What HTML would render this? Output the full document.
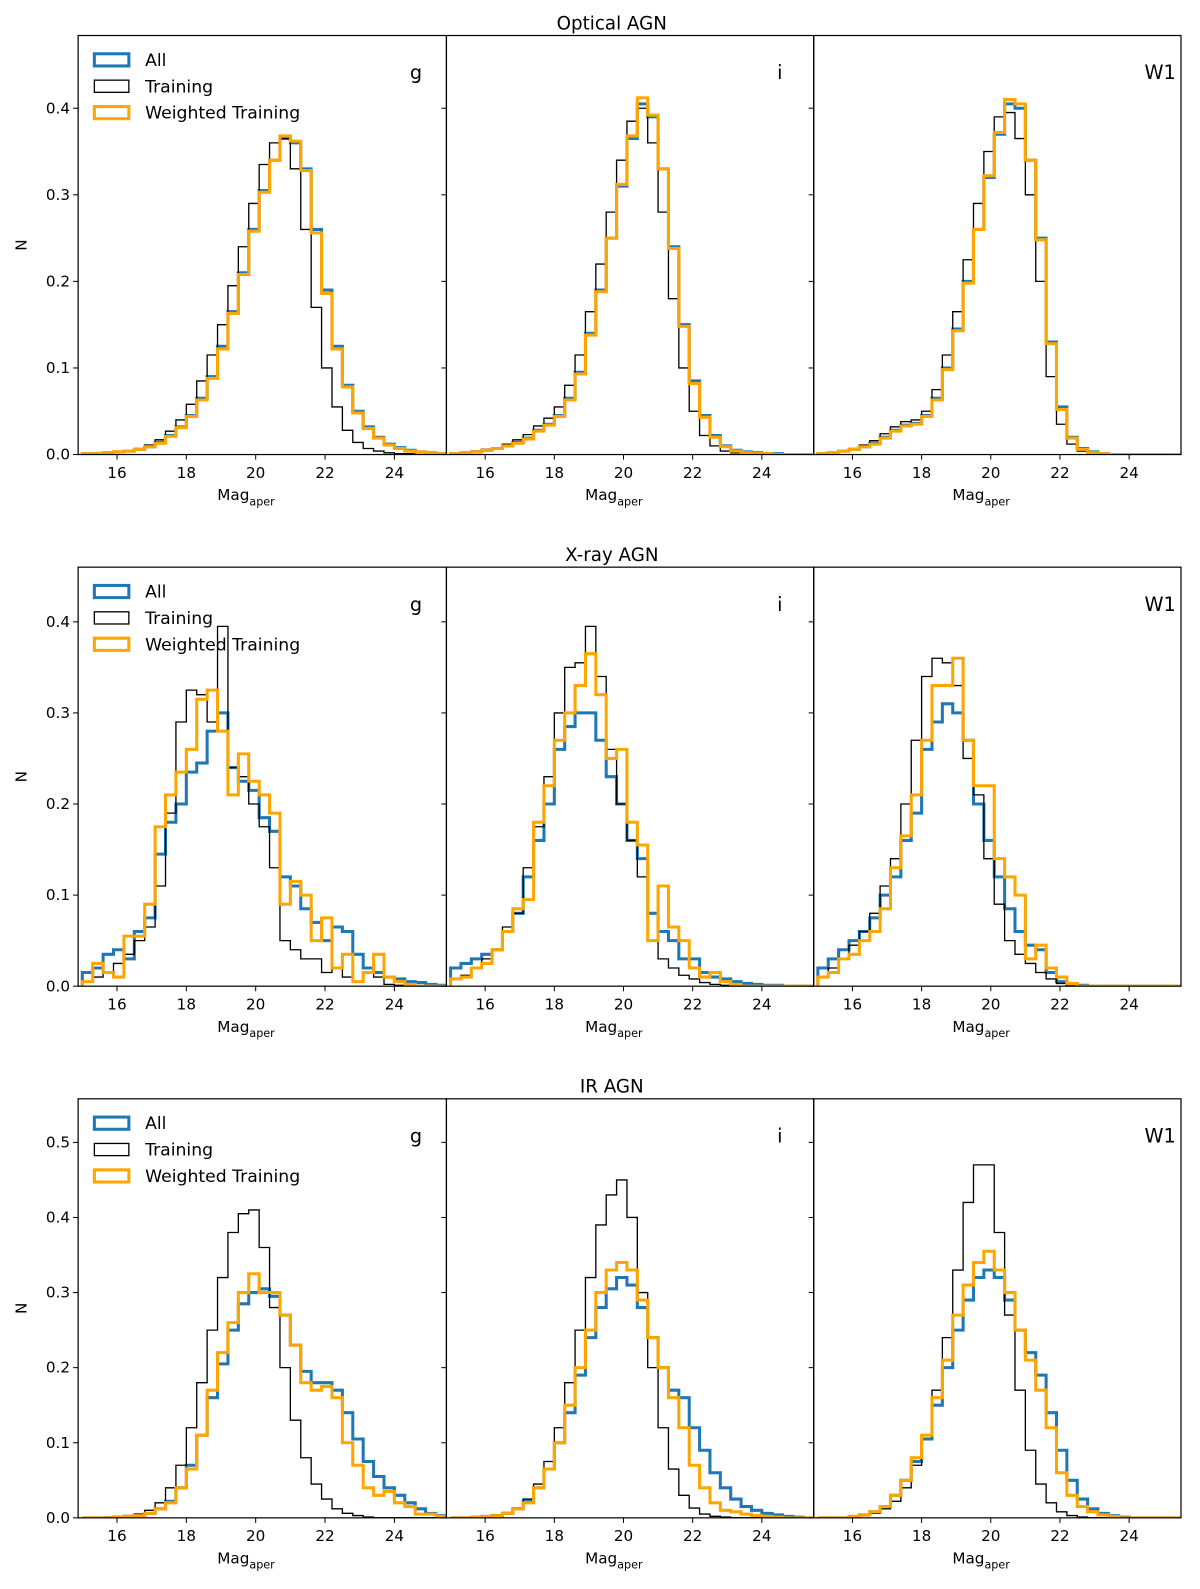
<!DOCTYPE html>
<html><head><meta charset="utf-8">
<style>
html,body{margin:0;padding:0;background:#fff;}
svg{display:block;font-family:"DejaVu Sans","Liberation Sans",sans-serif;}
</style></head>
<body>
<svg width="1200" height="1589" viewBox="0 0 1200 1589" xmlns="http://www.w3.org/2000/svg"><g id="fig" transform="scale(1.0146)"></g></svg>
<script>
const binStart = 15.0, binWidth = 0.3;
const xTicks = [16,18,20,22,24];
const rowTitles = ["Optical AGN","X-ray AGN","IR AGN"];
const bandLabels = ["g","i","W1"];
const yTicksRow = [[0,0.1,0.2,0.3,0.4],[0,0.1,0.2,0.3,0.4],[0,0.1,0.2,0.3,0.4,0.5]];
const yMaxRow = [0.484,0.46,0.558];

// Optical
const optG_all = [0.001,0.001,0.002,0.003,0.004,0.006,0.009,0.014,0.022,0.032,0.045,0.065,0.09,0.125,0.165,0.21,0.26,0.305,0.34,0.365,0.36,0.33,0.26,0.19,0.125,0.08,0.05,0.032,0.02,0.012,0.008,0.005,0.003,0.002,0.001];
const optG_train = [0.001,0.001,0.002,0.003,0.005,0.007,0.011,0.017,0.027,0.04,0.058,0.085,0.115,0.15,0.195,0.24,0.29,0.335,0.36,0.365,0.33,0.26,0.17,0.1,0.055,0.028,0.014,0.007,0.004,0.002,0.001,0.001,0,0,0];
const optG_wt = [0.001,0.001,0.002,0.003,0.004,0.006,0.009,0.013,0.021,0.031,0.044,0.063,0.088,0.122,0.163,0.208,0.258,0.303,0.34,0.368,0.362,0.328,0.256,0.186,0.122,0.078,0.048,0.03,0.019,0.011,0.007,0.004,0.003,0.002,0.001];
const optI_all = [0.001,0.002,0.003,0.005,0.007,0.01,0.014,0.019,0.028,0.035,0.045,0.065,0.095,0.14,0.19,0.25,0.31,0.365,0.405,0.39,0.33,0.24,0.15,0.085,0.045,0.022,0.01,0.005,0.003,0.002,0.001,0.001,0,0,0];
const optI_train = [0.001,0.002,0.004,0.006,0.008,0.012,0.017,0.023,0.033,0.042,0.055,0.08,0.115,0.165,0.22,0.28,0.34,0.385,0.4,0.36,0.28,0.18,0.1,0.05,0.022,0.01,0.004,0.002,0.001,0,0,0,0,0,0];
const optI_wt = [0.001,0.002,0.003,0.005,0.007,0.01,0.013,0.018,0.027,0.034,0.044,0.063,0.093,0.138,0.188,0.25,0.312,0.368,0.412,0.392,0.33,0.238,0.148,0.082,0.043,0.02,0.009,0.004,0.002,0.001,0.001,0,0,0,0];
const optW_all = [0.001,0.002,0.004,0.006,0.009,0.013,0.02,0.028,0.034,0.036,0.045,0.065,0.1,0.145,0.2,0.26,0.32,0.37,0.405,0.4,0.34,0.25,0.13,0.055,0.02,0.007,0.003,0.001,0,0,0,0,0,0,0];
const optW_train = [0.001,0.002,0.005,0.007,0.011,0.016,0.024,0.032,0.038,0.04,0.05,0.075,0.115,0.165,0.225,0.29,0.35,0.39,0.395,0.365,0.3,0.2,0.09,0.035,0.012,0.004,0.001,0,0,0,0,0,0,0,0];
const optW_wt = [0.001,0.002,0.004,0.006,0.009,0.012,0.019,0.027,0.033,0.035,0.044,0.063,0.098,0.143,0.198,0.26,0.322,0.372,0.41,0.405,0.34,0.248,0.128,0.052,0.019,0.006,0.002,0.001,0,0,0,0,0,0,0];
// X-ray
const xrG_all = [0.015,0.02,0.035,0.04,0.03,0.06,0.075,0.145,0.18,0.2,0.235,0.245,0.28,0.3,0.24,0.225,0.215,0.185,0.17,0.12,0.11,0.085,0.07,0.05,0.065,0.06,0.035,0.02,0.015,0.01,0.008,0.005,0.004,0.002,0.001];
const xrG_train = [0.005,0.01,0.015,0.025,0.035,0.05,0.065,0.11,0.19,0.29,0.325,0.32,0.29,0.395,0.24,0.23,0.2,0.175,0.13,0.05,0.04,0.03,0.03,0.015,0.02,0.01,0.005,0.015,0.01,0.002,0.001,0,0,0,0];
const xrG_wt = [0.005,0.025,0.015,0.01,0.055,0.055,0.09,0.175,0.21,0.235,0.26,0.315,0.325,0.28,0.21,0.255,0.225,0.21,0.19,0.09,0.115,0.1,0.05,0.075,0.02,0.035,0.005,0.015,0.035,0.01,0.005,0.002,0,0,0];
const xrI_all = [0.02,0.025,0.03,0.035,0.04,0.06,0.08,0.12,0.16,0.2,0.26,0.285,0.3,0.3,0.27,0.23,0.2,0.16,0.14,0.08,0.06,0.05,0.03,0.03,0.015,0.01,0.008,0.005,0.003,0.002,0.001,0.001,0,0,0];
const xrI_train = [0.008,0.012,0.02,0.03,0.04,0.065,0.08,0.13,0.175,0.23,0.3,0.35,0.355,0.395,0.34,0.26,0.2,0.16,0.12,0.05,0.03,0.02,0.012,0.008,0.004,0.002,0.001,0,0,0,0,0,0,0,0];
const xrI_wt = [0.008,0.01,0.02,0.025,0.04,0.06,0.085,0.095,0.18,0.22,0.27,0.3,0.33,0.365,0.32,0.25,0.26,0.18,0.155,0.05,0.11,0.065,0.05,0.02,0.01,0.015,0.005,0.002,0,0,0,0,0,0,0];
const xrW_all = [0.02,0.03,0.04,0.05,0.06,0.075,0.1,0.12,0.16,0.19,0.26,0.29,0.31,0.3,0.27,0.2,0.16,0.12,0.085,0.06,0.045,0.04,0.015,0.005,0.002,0.001,0,0,0,0,0,0,0,0,0];
const xrW_train = [0.01,0.02,0.03,0.045,0.06,0.08,0.11,0.14,0.2,0.27,0.34,0.36,0.355,0.33,0.25,0.21,0.14,0.09,0.05,0.035,0.025,0.015,0.008,0.003,0,0,0,0,0,0,0,0,0,0,0];
const xrW_wt = [0.01,0.015,0.03,0.035,0.05,0.06,0.085,0.13,0.165,0.21,0.27,0.33,0.33,0.36,0.27,0.22,0.22,0.14,0.12,0.1,0.03,0.045,0.02,0.01,0.003,0,0,0,0,0,0,0,0,0,0];
// IR
const irG_all = [0,0,0,0.001,0.002,0.003,0.006,0.012,0.022,0.04,0.07,0.11,0.16,0.205,0.25,0.285,0.3,0.305,0.295,0.27,0.23,0.195,0.18,0.18,0.17,0.14,0.105,0.075,0.055,0.04,0.03,0.02,0.012,0.006,0.003];
const irG_train = [0,0,0.001,0.002,0.003,0.005,0.01,0.02,0.04,0.07,0.12,0.18,0.25,0.32,0.38,0.405,0.41,0.36,0.28,0.2,0.13,0.08,0.045,0.025,0.012,0.006,0.003,0.001,0,0,0,0,0,0,0];
const irG_wt = [0,0,0,0.001,0.002,0.003,0.006,0.012,0.02,0.04,0.065,0.11,0.17,0.22,0.26,0.3,0.325,0.3,0.3,0.27,0.23,0.18,0.17,0.175,0.16,0.1,0.07,0.04,0.03,0.035,0.02,0.015,0.005,0.005,0.002];
const irI_all = [0,0,0.001,0.002,0.003,0.006,0.012,0.022,0.04,0.065,0.1,0.14,0.19,0.24,0.28,0.305,0.32,0.31,0.28,0.24,0.2,0.17,0.16,0.12,0.09,0.06,0.04,0.025,0.015,0.01,0.006,0.004,0.002,0.001,0];
const irI_train = [0,0,0.001,0.002,0.004,0.007,0.013,0.025,0.045,0.075,0.12,0.18,0.25,0.32,0.39,0.43,0.45,0.4,0.3,0.2,0.12,0.065,0.03,0.013,0.005,0.002,0.001,0,0,0,0,0,0,0,0];
const irI_wt = [0,0,0.001,0.002,0.003,0.006,0.012,0.02,0.04,0.065,0.1,0.15,0.2,0.25,0.3,0.33,0.34,0.33,0.29,0.24,0.2,0.16,0.12,0.07,0.04,0.02,0.01,0.008,0.005,0.003,0.002,0.001,0,0,0];
const irW_all = [0,0,0,0.002,0.004,0.008,0.015,0.03,0.05,0.075,0.105,0.15,0.2,0.25,0.29,0.32,0.33,0.32,0.29,0.25,0.22,0.19,0.14,0.09,0.05,0.025,0.012,0.006,0.003,0.001,0,0,0,0,0];
const irW_train = [0,0,0,0.001,0.003,0.006,0.012,0.022,0.04,0.07,0.11,0.17,0.24,0.33,0.42,0.47,0.47,0.38,0.27,0.17,0.09,0.045,0.02,0.008,0.003,0.001,0,0,0,0,0,0,0,0,0];
const irW_wt = [0,0,0,0.002,0.004,0.008,0.015,0.03,0.05,0.08,0.11,0.16,0.21,0.27,0.31,0.34,0.355,0.33,0.3,0.25,0.21,0.17,0.12,0.06,0.03,0.015,0.008,0.004,0.002,0,0,0,0,0,0];

const panelData = [
 [[optG_all,optG_train,optG_wt],[optI_all,optI_train,optI_wt],[optW_all,optW_train,optW_wt]],
 [[xrG_all,xrG_train,xrG_wt],[xrI_all,xrI_train,xrI_wt],[xrW_all,xrW_train,xrW_wt]],
 [[irG_all,irG_train,irG_wt],[irI_all,irI_train,irI_wt],[irW_all,irW_train,irW_wt]]
];
const seriesNames = ["All","Training","Weighted Training"];

const NS = "http://www.w3.org/2000/svg";
const svg = document.getElementById('fig');
function mk(tag, attrs, parent){const e=document.createElementNS(NS,tag);for(const k in attrs)e.setAttribute(k,attrs[k]);(parent||svg).appendChild(e);return e;}

const colX = [77,440,802,1164];
const rowTop = [35,559,1083];
const rowH = 413;
const xMin = 14.88, xMax = 25.5;
const styles = [{c:"#1f77b4",w:3},{c:"#000",w:1.3},{c:"#ffa500",w:3}];

const defs = mk('defs',{});
for(let r=0;r<3;r++){
  const top=rowTop[r], bot=top+rowH, yMax=yMaxRow[r];
  const yS = v => bot - v/yMax*rowH;
  const t = mk('text',{x:603,y:top-6,'text-anchor':'middle','font-size':18});
  t.textContent = rowTitles[r];
  
  
  const yl = mk('text',{x:0,y:0,'text-anchor':'middle','font-size':15,transform:`translate(26,${top+rowH/2}) rotate(-90)`});
  yl.textContent = "N";
  
  
  for(let c=0;c<3;c++){
    const x0=colX[c], x1=colX[c+1];
    const xS = v => x0 + (v-xMin)/(xMax-xMin)*(x1-x0);
    const g = mk('g',{});
    
    
    const cid='clip'+r+c;
    const cp = mk('clipPath',{id:cid},defs);
    mk('rect',{x:x0,y:top,width:x1-x0,height:rowH},cp);
    const pg = mk('g',{'clip-path':`url(#${cid})`},g);
    panelData[r][c].forEach((arr,si)=>{
      let d = `M${xS(binStart)},${yS(0)}`;
      arr.forEach((v,i)=>{
        const a=binStart+i*binWidth, b=a+binWidth;
        d += ` L${xS(a)},${yS(v)} L${xS(b)},${yS(v)}`;
      });
      d += ` L${xS(binStart+arr.length*binWidth)},${yS(0)}`;
      const p = mk('path',{d:d,fill:'none',stroke:styles[si].c,'stroke-width':styles[si].w,'stroke-linejoin':'miter'},pg);
      
      
    });
    mk('rect',{x:x0,y:top,width:x1-x0,height:rowH,fill:'none',stroke:'#000','stroke-width':1.2},g);
    xTicks.forEach(v=>{
      const X=xS(v);
      mk('line',{x1:X,y1:bot,x2:X,y2:bot+5,stroke:'#000','stroke-width':1},g);
      const tl = mk('text',{x:X,y:bot+23,'text-anchor':'middle','font-size':15},g);
      tl.textContent = v;
      
      
    });
    yTicksRow[r].forEach(v=>{
      const Y=yS(v);
      mk('line',{x1:x0-5,y1:Y,x2:x0,y2:Y,stroke:'#000','stroke-width':1},g);
      if(c===0){
        const tl = mk('text',{x:x0-8,y:Y+5,'text-anchor':'end','font-size':15},g);
        tl.textContent = v.toFixed(1);
        
        
      }
    });
    const xl = mk('text',{x:(x0+x1)/2-16,y:bot+45,'font-size':15,'text-anchor':'middle'},g);
    xl.innerHTML = 'Mag<tspan font-size="11" dy="5">aper</tspan>';
    
    
    const bl = mk('text',{x:x1-36,y:top+43,'text-anchor':'start','font-size':19},g);
    bl.textContent = bandLabels[c];
    
    
    if(c===0){
      const lg = mk('g',{},g);
      
      
      seriesNames.forEach((n,si)=>{
        const Y=top+24+si*26;
        mk('rect',{x:93,y:Y-6,width:34,height:12,fill:'none',stroke:styles[si].c,'stroke-width':styles[si].w},lg);
        const lt = mk('text',{x:143,y:Y+6,'font-size':17},lg);
        lt.textContent = n;
        
        
      });
    }
  }
}
</script>
</body></html>
